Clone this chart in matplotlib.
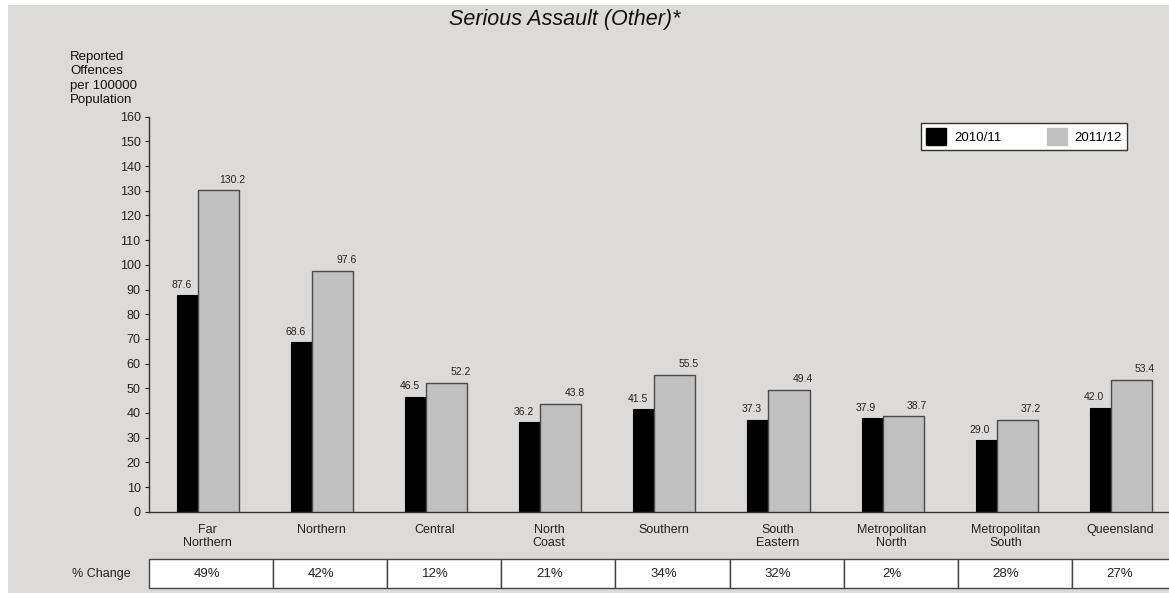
import matplotlib
matplotlib.use('Agg')
import matplotlib.pyplot as plt
from matplotlib.patches import Rectangle, Patch
import numpy as np

plt.rcParams['font.family'] = ['Liberation Sans', 'DejaVu Sans']

# data
regions = ["Far\nNorthern", "Northern", "Central", "North\nCoast", "Southern",
           "South\nEastern", "Metropolitan\nNorth", "Metropolitan\nSouth", "Queensland"]
rate_2010 = [87.6, 68.6, 46.5, 36.2, 41.5, 37.3, 37.9, 29.0, 42.0]
rate_2011 = [130.2, 97.6, 52.2, 43.8, 55.5, 49.4, 38.7, 37.2, 53.4]
pct_change = ["49%", "42%", "12%", "21%", "34%", "32%", "2%", "28%", "27%"]
series_names = ["2010/11", "2011/12"]

W, H = 1169, 593
bg = '#dcdbd9'
fig = plt.figure(figsize=(W / 100, H / 100), dpi=100, facecolor='white')
# grey panel behind everything
fig.patches.append(Rectangle((8 / W, 0), 1 - 8 / W, 1 - 5 / H, transform=fig.transFigure,
                             facecolor=bg, edgecolor='none', zorder=-10))

# main axes (pixel positions)
ax = fig.add_axes([149 / W, 1 - 511.7 / H, 1 - 149 / W, (511.7 - 116.7) / H])
ax.patch.set_visible(False)

x = np.arange(len(regions))
barw = 0.36
ax.bar(x - 0.263, rate_2010, width=barw, align='edge', color='black',
       edgecolor='black', linewidth=0.8, zorder=2)
ax.bar(x - 0.079, rate_2011, width=barw, align='edge', color='#c0c0c0',
       edgecolor='#4a4a4a', linewidth=1.0, zorder=3)

for i in range(len(regions)):
    ax.annotate(f"{rate_2010[i]:.1f}", (x[i] - 0.225, rate_2010[i]), xytext=(0, 4),
                textcoords='offset points', ha='center', va='bottom', fontsize=7.5, color='#222222')
    ax.annotate(f"{rate_2011[i]:.1f}", (x[i] + 0.22, rate_2011[i]), xytext=(0, 4),
                textcoords='offset points', ha='center', va='bottom', fontsize=7.5, color='#222222')

xlo, xhi = -0.508, (W - 207) / 114.1
ax.set_xlim(xlo, xhi)
ax.set_ylim(0, 160)
ax.set_yticks(np.arange(0, 161, 10))
ax.tick_params(axis='y', length=3, width=0.8, pad=3, labelsize=9, colors='#222222')
ax.set_xticks(x)
ax.set_xticklabels(regions, fontsize=9, linespacing=1.1, color='#222222')
ax.tick_params(axis='x', length=0, pad=9)
for s in ['top', 'right']:
    ax.spines[s].set_visible(False)
for s in ['left', 'bottom']:
    ax.spines[s].set_color('#333333')
    ax.spines[s].set_linewidth(1.0)

# y label block at top left
fig.text(70 / W, 1 - 51 / H, "Reported\nOffences\nper 100000\nPopulation", ha='left', va='top',
         fontsize=9.5, linespacing=1.27, color='#111111')

# title
fig.text(565 / W, 1 - 19 / H, "Serious Assault (Other)*", ha='center', va='center',
         fontsize=15.5, style='italic', color='#111111')

# legend
handles = [Patch(facecolor='black', edgecolor='black'),
           Patch(facecolor='#c0c0c0', edgecolor='#c0c0c0')]
leg = fig.legend(handles, series_names, ncol=2, loc='center',
                 bbox_to_anchor=(921 / W, 1 - 156 / H, 206 / W, 39 / H),
                 bbox_transform=fig.transFigure, mode='expand', borderaxespad=0,
                 fontsize=9.5, handlelength=1.5, handleheight=1.5, handletextpad=0.6,
                 frameon=True, fancybox=False, framealpha=1, facecolor='white',
                 edgecolor='#333333')
leg.get_frame().set_linewidth(1.0)

# % change table
axt = fig.add_axes([149 / W, 1 - 588.3 / H, 1 - 149 / W, (588.3 - 559.3) / H], sharex=ax)
axt.axis('off')
axt.set_ylim(0, 1)
edges = [xlo] + [i + 0.58 for i in range(len(regions) - 1)] + [xhi + 0.05]
for i in range(len(regions)):
    axt.add_patch(Rectangle((edges[i], 0), edges[i + 1] - edges[i], 1, facecolor='white',
                            edgecolor='#444444', linewidth=1.0, clip_on=False))
    axt.text(x[i], 0.5, pct_change[i], ha='center', va='center', fontsize=9.5, color='#222222')

fig.text(131 / W, 1 - 574 / H, "% Change", ha='right', va='center', fontsize=9, color='#222222')

fig.savefig('out.png', dpi=100, facecolor=fig.get_facecolor())
